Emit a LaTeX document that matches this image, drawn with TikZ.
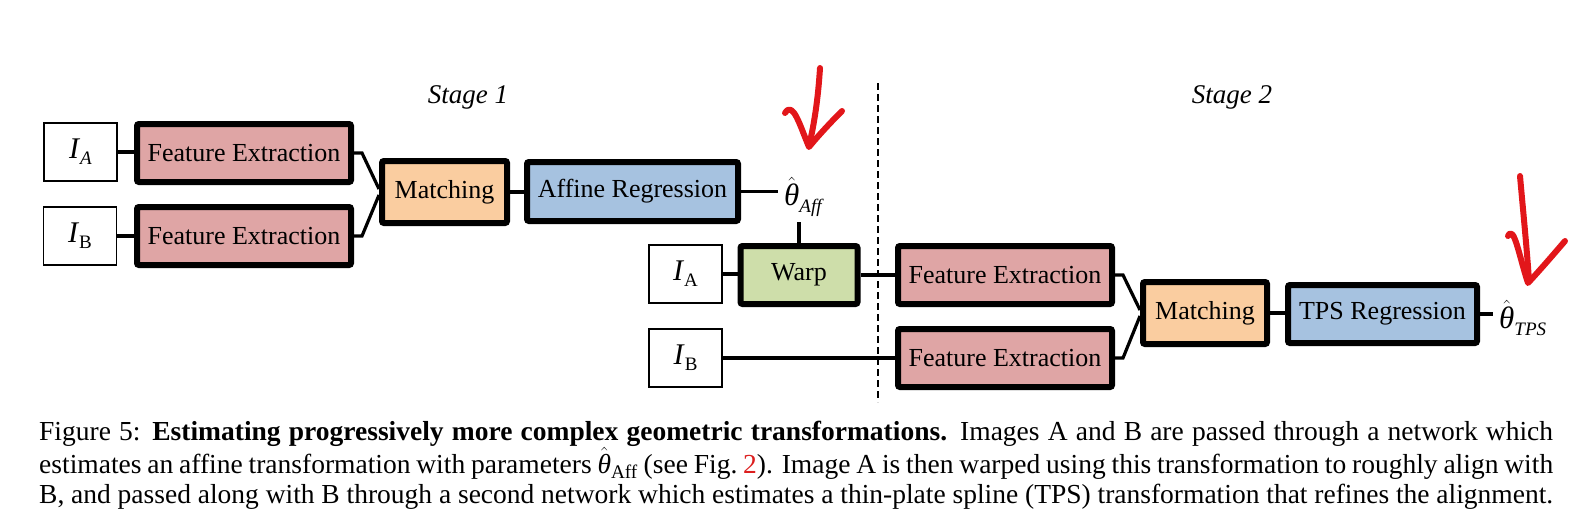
\documentclass[tikz,border=0pt]{standalone}
\usepackage{fontspec}
\setmainfont{Liberation Serif}
\definecolor{fepink}{RGB}{223,165,165}
\definecolor{matchorange}{RGB}{250,205,160}
\definecolor{regblue}{RGB}{166,194,224}
\definecolor{warpgreen}{RGB}{206,222,170}
\definecolor{markred}{RGB}{226,22,26}
\definecolor{linkred}{RGB}{220,30,30}
\newcommand\thetahat{\leavevmode\hbox{$\hat{\hbox{\textit{θ}}}$}}
\newcommand\mysub[1]{\raisebox{-0.45ex}{\fontsize{19}{20}\selectfont #1}}
\begin{document}
\begin{tikzpicture}[x=1pt,y=-1pt,
  blk/.style={draw=black, line width=6pt, rounded corners=2pt, inner sep=0pt,
    minimum height=58pt, font=\fontsize{26}{30}\selectfont},
  img/.style={draw=black, line width=1.2pt, fill=white, inner sep=0pt,
    minimum width=73pt, minimum height=58pt, font=\fontsize{30}{34}\selectfont},
  conn/.style={line width=3.2pt},
  stagelbl/.style={font=\itshape\fontsize{27}{30}\selectfont},
  thetalbl/.style={anchor=west, inner sep=0pt, font=\fontsize{31}{34}\selectfont},
  redmark/.style={draw=markred, line width=6pt, line cap=round, line join=round}]
\useasboundingbox (0,0) rectangle (1580,530);

% stage labels
\node[stagelbl] (s1) at (468,97) {Stage 1};
\node[stagelbl] (s2) at (1232,97) {Stage 2};

% stage 1
\node[img] (ia1) at (80.5,152) {\textit{I}\mysub{\textit{A}}};
\node[img] (ib1) at (80,236) {\textit{I}\mysub{B}};
\node[blk, fill=fepink, minimum width=214pt] (fe1) at (244,153) {Feature Extraction};
\node[blk, fill=fepink, minimum width=214pt] (fe2) at (244,236) {Feature Extraction};
\node[blk, fill=matchorange, minimum width=125pt, minimum height=62pt] (m1) at (444.5,192) {Matching};
\node[blk, fill=regblue, minimum width=211pt, minimum height=59pt] (aff) at (632.5,191.5) {Affine Regression};
\node[thetalbl] (thaff) at (784,197) {\thetahat\mysub{\textit{Aff}}};

% stage 2
\node[img] (ia2) at (685.5,274) {\textit{I}\mysub{A}};
\node[img] (ib2) at (685.5,358) {\textit{I}\mysub{B}};
\node[blk, fill=warpgreen, minimum width=117pt] (warp) at (799,275) {Warp};
\node[blk, fill=fepink, minimum width=214pt] (fe3) at (1005,275) {Feature Extraction};
\node[blk, fill=fepink, minimum width=214pt] (fe4) at (1005,358) {Feature Extraction};
\node[blk, fill=matchorange, minimum width=124pt, minimum height=62pt] (m2) at (1205,313) {Matching};
\node[blk, fill=regblue, minimum width=189pt] (tps) at (1382.5,314) {TPS Regression};
\node[thetalbl] (thtps) at (1499,318) {\thetahat\mysub{\textit{TPS}}};

% dashed separator
\coordinate (dtop) at (878,83);
\coordinate (dbot) at (878,402);
\draw[line width=1.3pt, dash pattern=on 7pt off 4pt] (dtop) -- (dbot);

% connectors
\draw[conn] (ia1.east) -- (ia1.east -| fe1.west);
\draw[conn] (ib1.east) -- (ib1.east -| fe2.west);
\draw[conn] (fe1.east) -- ++(8,0) -- ([yshift=3pt]m1.west);
\draw[conn] (fe2.east) -- ++(8,0) -- ([yshift=-3pt]m1.west);
\draw[conn] (m1.east) -- (m1.east -| aff.west);
\draw[conn] (aff.east) -- ([xshift=-6pt]aff.east -| thaff.west);
\draw[conn] (warp.north) -- ++(0,-21);
\draw[conn] (ia2.east) -- (ia2.east -| warp.west);
\draw[conn] (warp.east) -- (warp.east -| fe3.west);
\draw[conn] (ib2.east) -- (ib2.east -| fe4.west);
\draw[conn] (fe3.east) -- ++(8,0) -- ([yshift=3pt]m2.west);
\draw[conn] (fe4.east) -- ++(8,0) -- ([yshift=-3pt]m2.west);
\draw[conn] (m2.east) -- (m2.east -| tps.west);
\draw[conn] (tps.east) -- ([xshift=-6pt]tps.east -| thtps.west);

% red hand-drawn arrows
\draw[redmark] (820,68) .. controls (818,100) and (814,125) .. (809,146);
\draw[redmark] (785,113) .. controls (793,100) and (800,126) .. (809,147)
  .. controls (818,136) and (830,123) .. (842,111);
\draw[redmark] (1520,176) .. controls (1523,210) and (1527,250) .. (1529,281);
\draw[redmark] (1508,236) .. controls (1514,224) and (1519,256) .. (1528,283)
  .. controls (1540,270) and (1553,255) .. (1565,241);

% caption
\node[anchor=north west, inner sep=0pt, text width=1514pt, align=justify,
  font=\fontsize{27.5}{30.5}\selectfont] (cap) at (39,421)
{Figure 5: \textbf{Estimating progressively more complex geometric transformations.} Images A and B are passed through a network which\linebreak
estimates an affine transformation with parameters \thetahat\textsubscript{Aff} (see Fig.~\textcolor{linkred}{2}). Image A is then warped using this transformation to roughly align with\linebreak
B, and passed along with B through a second network which estimates a thin-plate spline (TPS) transformation that refines the alignment.};
\end{tikzpicture}
\end{document}
